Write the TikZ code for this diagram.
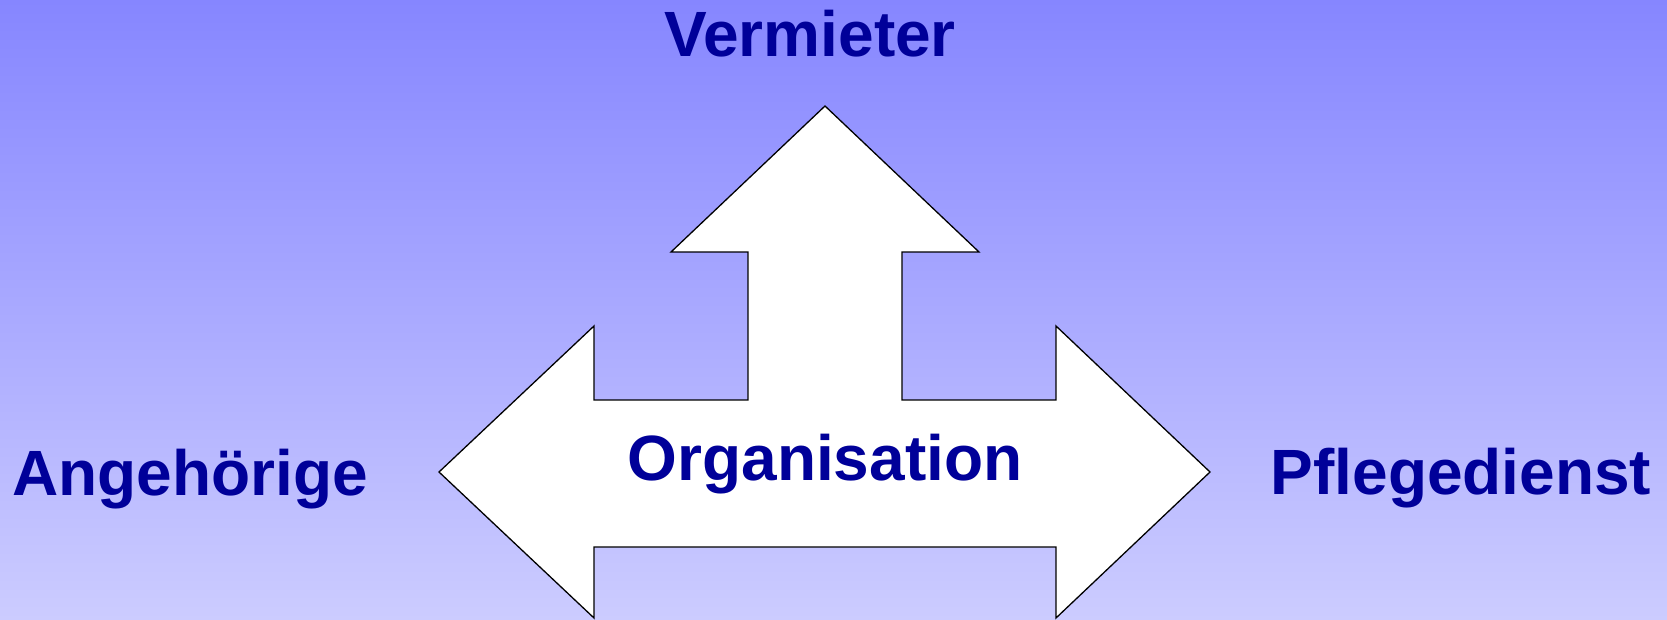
\documentclass[tikz,border=0pt]{standalone}
\usepackage{fontspec}
\setmainfont{Liberation Sans}
\usepackage{xcolor}
\usepackage{tikz}
\usetikzlibrary{positioning}

\definecolor{bgtop}{RGB}{134,134,255}
\definecolor{bgbottom}{RGB}{204,204,255}
\definecolor{labelblue}{RGB}{0,0,153}

\tikzset{
  label text/.style={font=\fontsize{64}{72}\selectfont\bfseries, text=labelblue, inner sep=0pt, anchor=base},
  arrow shape/.style={draw=black, fill=white, line width=1.3pt, line join=miter}
}

\begin{document}
\begin{tikzpicture}[x=1pt, y=-1pt]
			% background
			\shade[top color=bgtop, bottom color=bgbottom] (0,0) rectangle (1667,620);
			\useasboundingbox (0,0) rectangle (1667,620);

			% the three-way arrow
			\draw[arrow shape] (825,106) -- (979,252) -- (902,252) -- (902,400)
				-- (1056,400) -- (1056,326) -- (1210,472) -- (1056,618) -- (1056,547)
				-- (594,547) -- (594,618) -- (439,472) -- (594,326) -- (594,400)
				-- (748,400) -- (748,252) -- (671,252) -- cycle;

			\node[label text] (organisation) at (825,480) {Organisation};
			\node[label text] (vermieter) at (810,57) {Vermieter};
			\node[label text] (angehoerige) at (190,495) {Angehörige};
			\node[label text] (pflegedienst) at (1461,494) {Pflegedienst};
		\end{tikzpicture}
\end{document}
